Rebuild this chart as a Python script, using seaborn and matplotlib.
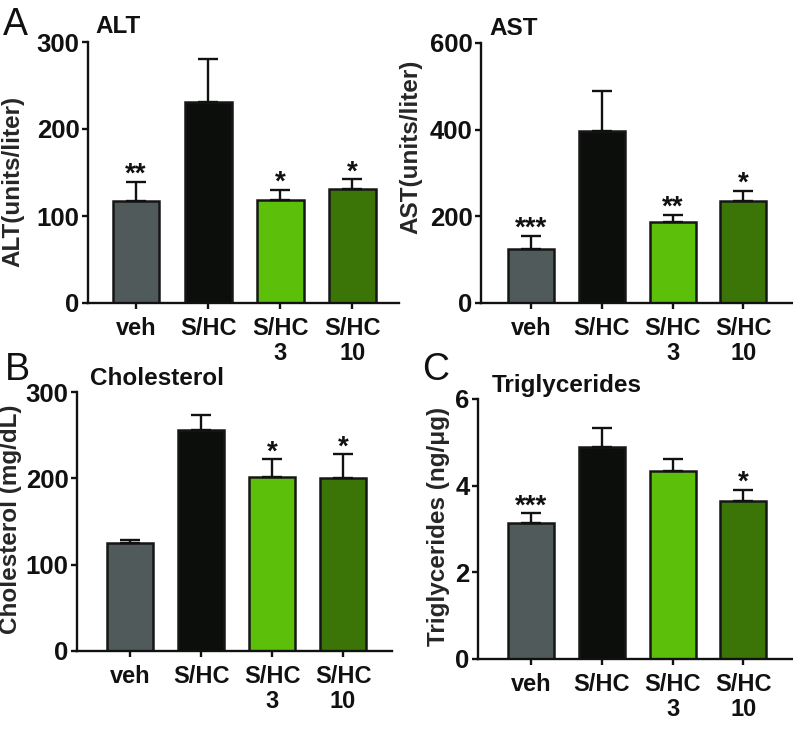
import numpy as np
import pandas as pd
import matplotlib
matplotlib.use("Agg")
import matplotlib.pyplot as plt
import seaborn as sns

# ---------------- data ----------------
groups = ["veh", "S/HC", "S/HC3", "S/HC10"]
tick_labels = ["veh", "S/HC", "S/HC\n3", "S/HC\n10"]
colors = ["#505a5a", "#0b0e0b", "#5cc00a", "#3b7507"]

alt_mean = [117, 231, 118, 131]
alt_err = [22, 50, 12, 11]
alt_sig = ["**", "", "*", "*"]

ast_mean = [125, 398, 186, 235]
ast_err = [30, 92, 17, 24]
ast_sig = ["***", "", "**", "*"]

chol_mean = [125, 256, 202, 200]
chol_err = [4, 17, 20, 28]
chol_sig = ["", "", "*", "*"]

tg_mean = [3.15, 4.89, 4.33, 3.65]
tg_err = [0.21, 0.45, 0.28, 0.25]
tg_sig = ["***", "", "", "*"]

# ---------------- style ----------------
sns.set_theme(style="ticks")
plt.rcParams["font.family"] = ["Liberation Sans", "DejaVu Sans"]
plt.rcParams["font.weight"] = "bold"

W, H = 793, 731
fig = plt.figure(figsize=(W / 100, H / 100), dpi=100)


def px_axes(l, t, r, b):
    return fig.add_axes([l / W, 1 - b / H, (r - l) / W, (b - t) / H])


def panel(ax, mean, err, sig, ylim, yticks, ylabel, xlim, label_coords):
    df = pd.DataFrame({"group": groups, "value": mean})
    sns.barplot(data=df, x="group", y="value", hue="group", palette=colors,
                order=groups, hue_order=groups, width=0.65, legend=False,
                edgecolor="#161616", linewidth=1.8, errorbar=None, ax=ax,
                saturation=1)
    xs = np.arange(len(groups))
    ax.errorbar(xs, mean, yerr=[np.zeros(len(err)), err], fmt="none",
                ecolor="#111111", elinewidth=1.7, capsize=7.5, capthick=1.7,
                zorder=1)
    for x, m, e, s in zip(xs, mean, err, sig):
        if s:
            ax.annotate(s, xy=(x, m + e), xytext=(0, 0), textcoords="offset points",
                        ha="center", va="baseline", fontsize=20, fontweight="bold",
                        color="#111111")
    ax.set_ylim(*ylim)
    ax.set_yticks(yticks)
    ax.set_xlim(*xlim)
    ax.set_xticks(xs)
    ax.set_xticklabels(tick_labels, fontsize=17, fontweight="bold",
                       linespacing=1.1)
    ax.set_yticklabels([f"{t:g}" for t in yticks], fontsize=18.5, fontweight="bold")
    ax.set_xlabel("")
    ax.set_ylabel(ylabel, fontsize=17.5, fontweight="bold")
    ax.yaxis.set_label_coords(*label_coords)
    sns.despine(ax=ax)
    for sp in ("left", "bottom"):
        ax.spines[sp].set_linewidth(1.7)
        ax.spines[sp].set_color("#111111")
    ax.tick_params(axis="both", direction="out", length=4.5, width=1.7,
                   color="#111111", labelcolor="#111111")
    ax.tick_params(axis="y", pad=1.5)
    ax.tick_params(axis="x", pad=5.5)
    ax.patch.set_alpha(0)


axA = px_axes(88, 42, 399, 303)
panel(axA, alt_mean, alt_err, alt_sig, (0, 300), [0, 100, 200, 300],
      "ALT(units/liter)", (-0.667, 3.65), (-0.205, 0.467))

axA2 = px_axes(481, 43, 792, 303)
panel(axA2, ast_mean, ast_err, ast_sig, (0, 600), [0, 200, 400, 600],
      "AST(units/liter)", (-0.71, 3.69), (-0.19, 0.6))

axB = px_axes(77, 392, 392, 651)
panel(axB, chol_mean, chol_err, chol_sig, (0, 300), [0, 100, 200, 300],
      "Cholesterol (mg/dL)", (-0.75, 3.69), (-0.175, 0.51))

axC = px_axes(478, 399, 792, 659)
panel(axC, tg_mean, tg_err, tg_sig, (0, 6), [0, 2, 4, 6],
      "Triglycerides (ng/\u03bcg)", (-0.754, 3.69), (-0.09, 0.51))

# titles
for txt, x, y in [("ALT", 95, 33), ("AST", 489, 35),
                  ("Cholesterol", 90, 385), ("Triglycerides", 492, 392)]:
    fig.text(x / W, 1 - y / H, txt, ha="left", va="baseline",
             fontsize=17.5, fontweight="bold", color="#111111")

# panel letters
for txt, x, y in [("A", 3, 35), ("B", 5, 380), ("C", 422, 380)]:
    fig.text(x / W, 1 - y / H, txt, ha="left", va="baseline",
             fontsize=27, fontweight="normal", color="#111111")

fig.savefig("out.png", dpi=100)
